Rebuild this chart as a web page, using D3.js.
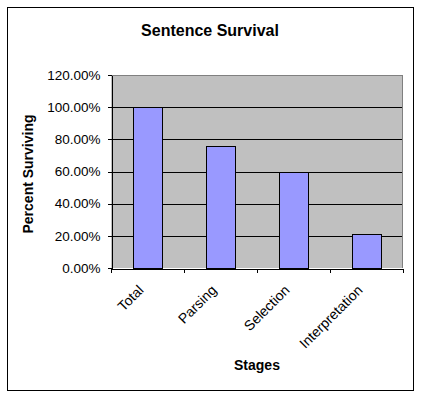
<!DOCTYPE html>
<html>
<head>
<meta charset="utf-8">
<script src="https://cdn.jsdelivr.net/npm/d3@7"></script>
<style>
  body { margin: 0; background: #fff; }
  text { font-family: Arial, "Liberation Sans", sans-serif; }
</style>
</head>
<body>
<div id="chart"></div>
<script>
// chart data
const stages = ["Total", "Parsing", "Selection", "Interpretation"];
const survival = [100, 76, 60, 21];
const yTicks = [0, 20, 40, 60, 80, 100, 120];

const width = 422;
const height = 398;
const plot = { left: 111, right: 403, top: 75, bottom: 268 };

const svg = d3.select("#chart")
    .append("svg")
    .attr("width", width)
    .attr("height", height)
    .attr("shape-rendering", "crispEdges");

// outer chart border
svg.append("rect")
    .attr("x", 7.5).attr("y", 7.5)
    .attr("width", 406).attr("height", 383)
    .attr("fill", "#fff")
    .attr("stroke", "#000");

// scales
const x = d3.scaleBand()
    .domain(stages)
    .range([plot.left, plot.right])
    .paddingInner(0.6)
    .paddingOuter(0.3);

const xEdges = d3.scaleLinear()
    .domain([0, stages.length])
    .range([plot.left, plot.right]);

const y = d3.scaleLinear()
    .domain([0, 120])
    .range([plot.bottom, plot.top]);

// plot area background
svg.append("rect")
    .attr("x", plot.left).attr("y", plot.top)
    .attr("width", plot.right - plot.left)
    .attr("height", plot.bottom - plot.top)
    .attr("fill", "#c0c0c0");

// grey border on top and right of plot
svg.append("path")
    .attr("d", `M${plot.left},${plot.top + 0.5}H${plot.right - 0.5}V${plot.bottom}`)
    .attr("fill", "none")
    .attr("stroke", "#808080");

// gridlines
svg.append("g")
    .selectAll("line")
    .data(yTicks.filter(d => d > 0 && d < 120))
    .join("line")
    .attr("x1", plot.left)
    .attr("x2", plot.right - 1)
    .attr("y1", d => Math.round(y(d)) + 0.5)
    .attr("y2", d => Math.round(y(d)) + 0.5)
    .attr("stroke", "#000");

// bars
svg.append("g")
    .selectAll("rect")
    .data(survival)
    .join("rect")
    .attr("x", (d, i) => Math.round(x(stages[i])) + 0.5)
    .attr("y", d => Math.round(y(d)) + 0.5)
    .attr("width", Math.round(x.bandwidth()))
    .attr("height", d => Math.round(y(0)) - Math.round(y(d)))
    .attr("fill", "#9999ff")
    .attr("stroke", "#000");

// y axis
const yAxis = d3.axisLeft(y)
    .tickValues(yTicks)
    .tickFormat(d => d.toFixed(2) + "%")
    .tickSize(4)
    .tickSizeOuter(0)
    .tickPadding(7);

const gy = svg.append("g")
    .attr("transform", `translate(${plot.left + 0.5},0)`)
    .call(yAxis);
gy.select(".domain").attr("stroke", "#000");
gy.selectAll("text")
    .attr("font-size", 13.5)
    .attr("fill", "#000");

// x axis (ticks between categories)
const xAxis = d3.axisBottom(xEdges)
    .tickValues(d3.range(stages.length + 1))
    .tickFormat("")
    .tickSize(4)
    .tickSizeOuter(0);

svg.append("g")
    .attr("transform", `translate(0,${plot.bottom + 0.5})`)
    .call(xAxis);

// category labels, rotated
svg.append("g")
    .selectAll("text")
    .data(stages)
    .join("text")
    .attr("transform", d => `translate(${x(d) + x.bandwidth() / 2 - 3},${plot.bottom + 23}) rotate(-45)`)
    .attr("text-anchor", "end")
    .attr("font-size", 14)
    .text(d => d);

// titles
svg.append("text")
    .attr("x", 210).attr("y", 36)
    .attr("text-anchor", "middle")
    .attr("font-size", 16)
    .attr("font-weight", "bold")
    .text("Sentence Survival");

svg.append("text")
    .attr("transform", "translate(33,174) rotate(-90)")
    .attr("text-anchor", "middle")
    .attr("font-size", 14)
    .attr("font-weight", "bold")
    .text("Percent Surviving");

svg.append("text")
    .attr("x", (plot.left + plot.right) / 2).attr("y", 370)
    .attr("text-anchor", "middle")
    .attr("font-size", 14)
    .attr("font-weight", "bold")
    .text("Stages");
</script>
</body>
</html>
